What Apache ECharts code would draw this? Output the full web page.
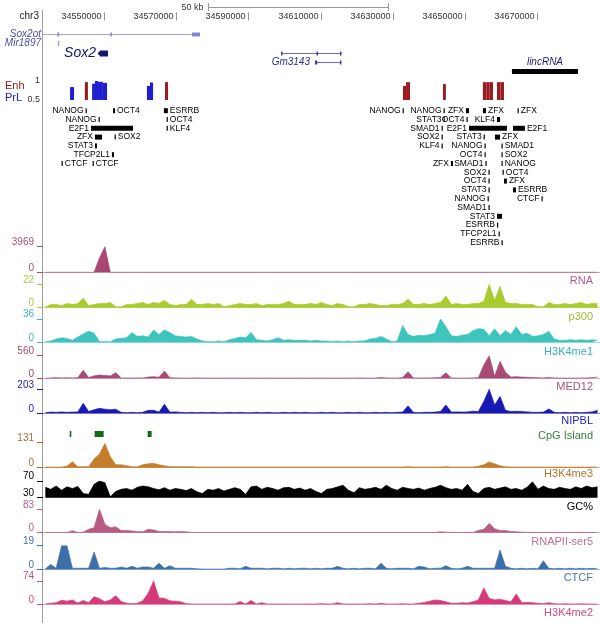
<!DOCTYPE html>
<html>
<head>
<meta charset="utf-8">
<script src="https://cdn.jsdelivr.net/npm/echarts@6.0.0/dist/echarts.min.js"></script>
<style>
html, body { margin: 0; padding: 0; background: #fff; }
#main { width: 600px; height: 623px; }
</style>
</head>
<body>
<div id="main"></div>
<script>
var FONT = '"Liberation Sans", Arial, sans-serif';

// genomic window (chr3)
var X_MIN = 34533100, X_MAX = 34687450;
// signal tracks are binned: bin i starts at BIN_START + i * BIN_SIZE
var BIN_START = 34533000, BIN_SIZE = 1500;

var rulerTicks = [34550000, 34570000, 34590000, 34610000, 34630000, 34650000, 34670000];
var scaleBar = [34578800, 34628800];

// name, txStart, txEnd, row
var genes = [
    ['Sox2ot', 34533100, 34576600, 0],
    ['Mir1897', 34537200, 34537500, 1],
    ['Sox2', 34548900, 34551100, 2],
    ['Gm3143', 34599050, 34615670, 2],
    ['Gm3143', 34608470, 34615670, 3],
    ['lincRNA', 34663050, 34681350, 4]
];
var geneExons = [
    [[34537100, 34537550], [34551800, 34552200], [34574400, 34576600]],
    [[34537200, 34537500]],
    [[34548900, 34551100]],
    [[34599050, 34599450], [34608900, 34609300], [34615400, 34615670]],
    [[34608470, 34609100], [34615400, 34615670]],
    [[34663050, 34681350]]
];

// start, end, score
var enhRegions = [
    [34544700, 34545550, 0.97], [34566900, 34567750, 0.97],
    [34632850, 34633700, 0.87], [34633700, 34634800, 0.97],
    [34643950, 34644750, 0.92],
    [34655000, 34655950, 0.97], [34655950, 34656900, 0.97], [34656900, 34657800, 0.97],
    [34658900, 34659850, 0.97], [34659850, 34660850, 0.97]
];
var prlRegions = [
    [34540600, 34541700, 0.84],
    [34546700, 34547500, 0.93], [34547500, 34548350, 1.0], [34548350, 34549700, 0.98], [34549700, 34550850, 0.95],
    [34561900, 34562750, 0.87], [34562750, 34563600, 0.96]
];

// factor, start, end, row
var tfSites = [
    ['NANOG', 34544900, 34545150, 0], ['OCT4', 34552500, 34553050, 0], ['ESRRB', 34566600, 34567700, 0],
    ['NANOG', 34548500, 34548750, 1], ['OCT4', 34567350, 34567600, 1],
    ['E2F1', 34546400, 34558050, 2], ['KLF4', 34567350, 34567600, 2],
    ['ZFX', 34547500, 34549450, 3], ['SOX2', 34552950, 34553200, 3],
    ['STAT3', 34547500, 34548050, 4],
    ['TFCP2L1', 34552200, 34552770, 5],
    ['CTCF', 34538250, 34538500, 6], ['CTCF', 34546850, 34547100, 6],

    ['NANOG', 34632750, 34633000, 0], ['NANOG', 34644100, 34644350, 0], ['ZFX', 34650300, 34651150, 0],
    ['ZFX', 34655000, 34655850, 0], ['ZFX', 34664600, 34664850, 0],
    ['STAT3', 34644100, 34644350, 1], ['OCT4', 34650450, 34650700, 1], ['KLF4', 34658900, 34659750, 1],
    ['SMAD1', 34643550, 34643800, 2], ['E2F1', 34651150, 34661650, 2], ['E2F1', 34663350, 34666650, 2],
    ['SOX2', 34643550, 34643800, 3], ['STAT3', 34655200, 34655450, 3], ['ZFX', 34658350, 34659750, 3],
    ['KLF4', 34643550, 34643800, 4], ['NANOG', 34655450, 34655700, 4], ['SMAD1', 34660150, 34660400, 4],
    ['OCT4', 34655450, 34655700, 5], ['SOX2', 34660150, 34660400, 5],
    ['ZFX', 34646150, 34646700, 6], ['SMAD1', 34655700, 34655950, 6], ['NANOG', 34660150, 34660400, 6],
    ['SOX2', 34656550, 34656800, 7], ['OCT4', 34660450, 34660700, 7],
    ['OCT4', 34656550, 34656800, 8], ['ZFX', 34660850, 34661650, 8],
    ['STAT3', 34656550, 34656800, 9], ['ESRRB', 34663350, 34664150, 9],
    ['NANOG', 34656300, 34656550, 10], ['CTCF', 34671250, 34671500, 10],
    ['SMAD1', 34656550, 34656800, 11],
    ['STAT3', 34658900, 34660300, 12],
    ['ESRRB', 34658900, 34659200, 13],
    ['TFCP2L1', 34659350, 34659600, 14],
    ['ESRRB', 34660150, 34660400, 15]
];

var cpgIslands = [[34540500, 34540950], [34547400, 34549900], [34562100, 34563200]];

var trackNames = ['RNA', 'p300', 'H3K4me1', 'MED12', 'NIPBL', 'H3K4me3', 'GC%', 'RNAPII-ser5', 'CTCF', 'H3K4me2'];
var trackRanges = [[0, 3969], [0, 22], [0, 36], [0, 560], [0, 203], [0, 131], [30, 70], [0, 83], [0, 19], [0, 74]];

var rna = [
    0, 0, 0, 0, 0, 0, 0, 0, 0, 0,
    2200, 3969, 0, 0, 0, 0, 0, 0, 0, 0,
    0, 0, 0, 0, 0, 0, 0, 0, 0, 0,
    0, 0, 0, 0, 0, 0, 0, 0, 0, 0,
    0, 0, 0, 0, 0, 0, 0, 0, 0, 0,
    0, 0, 0, 0, 0, 0, 0, 0, 0, 0,
    0, 0, 0, 0, 0, 0, 0, 0, 0, 0,
    0, 0, 0, 0, 0, 0, 0, 0, 0, 0,
    0, 0, 0, 0, 0, 0, 0, 0, 0, 0,
    0, 0, 0, 0, 0, 0, 0, 0, 0, 0,
    0, 0, 0
];
var p300 = [
    0.5, 3, 3, 2, 4, 3, 4, 9, 2, 3,
    4, 4, 5, 1, 1, 3, 3, 4, 5, 3,
    5, 4, 7, 3, 2, 3, 3, 8, 3, 3,
    4, 3, 4, 1, 2, 3, 4, 3, 3, 4,
    2, 3, 3, 3, 4, 6, 3, 3, 3, 4,
    3, 5, 3, 2, 4, 3, 1, 1, 3, 3,
    4, 3, 2, 2, 3, 3, 4, 8, 3, 3,
    4, 3, 4, 5, 11, 3, 4, 3, 3, 4,
    4, 6, 22, 7, 20, 5, 4, 4, 3, 3,
    3, 1, 1, 5, 3, 3, 4, 3, 4, 5,
    3, 4, 4
];
var h3k4me1 = [
    1, 2, 5, 7, 6, 3, 8, 13, 17, 14,
    1, 1, 1, 5, 6, 7, 15, 9, 10, 8,
    19, 12, 19, 15, 10, 9, 8, 9, 5, 2,
    1, 1, 2, 1, 4, 6, 8, 7, 15, 4,
    3, 2, 4, 7, 3, 4, 3, 3, 3, 2,
    3, 2, 2, 1, 2, 1, 2, 1, 2, 2,
    5, 6, 9, 5, 1, 2, 26, 12, 9, 11,
    10, 12, 14, 36, 24, 10, 9, 11, 12, 18,
    21, 20, 10, 21, 10, 18, 12, 24, 12, 14,
    9, 10, 12, 17, 5, 3, 3, 4, 3, 4,
    3, 4, 3
];
var med12 = [
    0, 10, 15, 10, 15, 10, 15, 200, 20, 60,
    80, 70, 60, 140, 5, 10, 5, 10, 5, 30,
    40, 25, 180, 15, 10, 5, 5, 5, 10, 5,
    5, 5, 5, 5, 5, 5, 5, 5, 5, 5,
    5, 5, 5, 5, 5, 5, 5, 5, 5, 5,
    5, 5, 5, 5, 5, 5, 5, 5, 10, 5,
    5, 5, 20, 10, 5, 5, 20, 165, 10, 5,
    10, 10, 15, 20, 140, 10, 5, 5, 5, 10,
    15, 330, 560, 50, 420, 150, 30, 40, 30, 25,
    20, 15, 10, 20, 10, 5, 5, 5, 5, 5,
    10, 15, 30
];
var nipbl = [
    5, 10, 8, 12, 8, 10, 12, 85, 15, 30,
    42, 35, 30, 35, 8, 5, 8, 5, 8, 25,
    25, 10, 77, 10, 12, 8, 5, 8, 5, 8,
    5, 8, 5, 5, 8, 5, 8, 5, 5, 8,
    5, 8, 5, 5, 8, 5, 8, 5, 8, 5,
    5, 8, 5, 8, 5, 5, 8, 5, 8, 5,
    5, 8, 5, 8, 5, 8, 10, 62, 8, 5,
    8, 8, 10, 15, 70, 10, 12, 10, 12, 18,
    15, 100, 203, 70, 143, 25, 15, 18, 15, 12,
    8, 8, 10, 37, 8, 5, 8, 5, 8, 5,
    8, 12, 25
];
var h3k4me3 = [
    3, 3, 2, 3, 8, 31, 5, 5, 5, 45,
    70, 125, 57, 15, 15, 10, 5, 5, 15, 20,
    22, 15, 10, 5, 5, 5, 5, 5, 3, 3,
    3, 3, 3, 3, 3, 3, 3, 3, 3, 3,
    3, 3, 3, 3, 3, 3, 3, 3, 3, 3,
    3, 3, 3, 3, 3, 3, 3, 3, 3, 3,
    3, 3, 3, 3, 3, 3, 3, 5, 3, 3,
    3, 3, 3, 3, 5, 3, 3, 3, 3, 3,
    8, 15, 30, 20, 10, 5, 3, 3, 3, 3,
    3, 3, 3, 3, 3, 3, 3, 3, 3, 3,
    3, 3, 3
];
var gcPercent = [
    55, 50, 58, 48, 56, 52, 57, 40, 38, 62,
    70, 66, 32, 45, 50, 52, 48, 55, 58, 56,
    52, 49, 54, 48, 52, 50, 47, 52, 44, 40,
    50, 48, 52, 46, 50, 54, 50, 38, 56, 58,
    50, 55, 52, 48, 54, 55, 50, 53, 48, 52,
    45, 40, 50, 52, 56, 60, 48, 42, 54, 50,
    52, 55, 50, 60, 52, 48, 55, 52, 50, 53,
    48, 52, 55, 60, 54, 50, 52, 48, 62, 45,
    40, 52, 55, 50, 53, 56, 50, 52, 48, 55,
    68, 50, 58, 52, 50, 55, 52, 50, 56, 52,
    58, 54, 56
];
var rnapii = [
    1, 1, 1, 1, 1, 7, 1, 2, 12, 18,
    83, 30, 18, 21, 8, 8, 6, 4, 3, 12,
    10, 4, 4, 4, 3, 4, 3, 1, 1, 1,
    1, 1, 1, 1, 1, 1, 1, 1, 1, 1,
    1, 1, 1, 1, 1, 1, 1, 1, 1, 1,
    1, 1, 1, 1, 1, 1, 1, 1, 1, 1,
    1, 1, 1, 1, 1, 1, 1, 1, 1, 1,
    1, 1, 1, 3, 2, 1, 1, 1, 1, 1,
    8, 12, 33, 14, 8, 8, 4, 3, 2, 1,
    1, 1, 1, 1, 1, 1, 1, 1, 1, 1,
    1, 1, 1
];
var ctcf = [
    0.5, 4, 1, 19, 19, 1, 1, 1, 1, 14,
    1, 1.5, 1, 1, 2, 1, 2.5, 1, 2, 2,
    1, 5, 1, 3, 1, 1, 1, 1, 0.5, 0.3,
    0.3, 0.3, 0.3, 0.3, 1, 1, 0.5, 2.5, 1, 1,
    1, 0.5, 1, 1, 0.5, 1, 0.5, 1, 1, 0.5,
    1, 0.5, 1, 1, 2.5, 1, 0.5, 1, 0.5, 1,
    1, 0.5, 5, 1, 0.5, 1, 1, 1, 0.5, 2.5,
    2, 0.5, 1, 1, 3, 1, 0.5, 1, 2.5, 1,
    1, 1, 1, 1, 15.5, 2.5, 1, 0.5, 1, 0.5,
    1, 0.5, 7, 1, 0.5, 1, 0.5, 1, 0.5, 1,
    0.5, 1, 0.5
];
var h3k4me2 = [
    1, 3, 5, 13, 10, 14, 4, 12, 5, 24,
    18, 8, 14, 27, 9, 3, 2, 3, 11, 35,
    74, 20, 19, 11, 10, 8, 2, 1, 1, 1,
    1, 1, 1, 1, 1, 1, 9, 1, 12, 1,
    5, 1, 1, 1, 1, 1, 1, 1, 1, 1,
    1, 2, 1, 1, 5, 1, 1, 1, 1, 1,
    2, 1, 3, 1, 1, 1, 2, 1, 1, 3,
    6, 10, 14, 12, 8, 3, 3, 5, 4, 8,
    14, 52, 19, 14, 16, 12, 8, 33, 6, 6,
    5, 3, 2, 5, 2, 1, 2, 1, 1, 2,
    1, 1, 1
];
var trackValues = [rna, p300, h3k4me1, med12, nipbl, h3k4me3, gcPercent, rnapii, ctcf, h3k4me2];

// ---- layout / styles ----
// label side of each TF site ('L' left of the site, 'R' right of it)
var tfLabelSide = ['LRRLRLRLRLLRR', 'LLLRR', 'LLL', 'LLR', 'LLR', 'LLR', 'LR', 'LLR', 'LR', 'LR', 'LR', 'LL', 'LLLLL'].join('');

// top, height, name y, fill, name colour, number colour
var trackLayout = [
    [246.7, 25.6, 281, '#a8476f', '#b15c83', '#a3517a'],
    [284.3, 23.4, 317, '#a9cb2f', '#9dbb38', '#a8c63e'],
    [319, 23.3, 352, '#3cc4bd', '#35b3b7', '#3db6be'],
    [355.7, 22.6, 387, '#a84a72', '#a8537b', '#a04b72'],
    [389.3, 24, 421, '#1818b4', '#2424b8', '#1c1ca2'],
    [442.3, 25.4, 474, '#c47d2a', '#b3742e', '#a36c34'],
    [481, 16.7, 507, '#000000', '#000000', '#000000'],
    [509.3, 23.4, 542, '#b75b84', '#c06f97', '#b0638a'],
    [545.7, 23.8, 578, '#3d6fa8', '#4f78a8', '#4070a8'],
    [581, 23.3, 613, '#d63b79', '#d14a82', '#d04a80']
];

var geneLook = [
    {line: '#a6a6e4', exon: '#8484d8', h: 4, label: 'margin', font: 'italic 10px ' + FONT, text: '#4b4ba3'},
    {line: '#a6a6e4', exon: '#9a9ae0', h: 5, label: 'margin', font: 'italic 10px ' + FONT, text: '#4b4ba3'},
    {line: '#15156e', exon: '#15156e', h: 6, label: 'left', font: 'italic 14px ' + FONT, text: '#15156e', arrow: true},
    {line: '#6a6ac4', exon: '#3c3ca8', h: 4, label: 'none'},
    {line: '#6a6ac4', exon: '#3c3ca8', h: 4, label: 'left', font: 'italic 10px ' + FONT, text: '#2c2c8c'},
    {line: '#000000', exon: '#000000', h: 5, label: 'above', font: 'italic 10px ' + FONT, text: '#1a1a80'}
];

var grids = [], xAxes = [], yAxes = [], series = [], graphics = [];

function addGrid(top, height, yAxis, baseColor) {
    var k = grids.length;
    grids.push({left: 43, right: 0, top: top, height: height});
    xAxes.push({
        gridIndex: k, type: 'value', min: X_MIN, max: X_MAX, show: !!baseColor,
        axisLine: {show: !!baseColor, onZero: false, lineStyle: {color: baseColor || '#000', width: 1, opacity: 0.5}},
        axisTick: {show: false}, axisLabel: {show: false}, splitLine: {show: false}
    });
    yAxis.gridIndex = k;
    yAxes.push(yAxis);
    return k;
}

function hiddenY(min, max, inverse) {
    return {type: 'value', min: min, max: max, inverse: !!inverse, show: false, splitLine: {show: false}};
}

function addCustom(k, data, renderItem, color) {
    series.push({
        type: 'custom', xAxisIndex: k, yAxisIndex: k, data: data, renderItem: renderItem,
        silent: true, clip: false, itemStyle: {color: color || '#000'}
    });
}

function crisp(v) { return Math.round(v) + 0.5; }

// scale bar
function renderScale(params, api) {
    var a = api.coord([api.value(0), 0]), b = api.coord([api.value(1), 0]);
    var cs = params.coordSys, y = crisp(cs.y + cs.height / 2);
    var x0 = crisp(a[0]), x1 = crisp(b[0]);
    var st = {stroke: '#9a9a9a', lineWidth: 1};
    return {type: 'group', children: [
        {type: 'line', shape: {x1: x0, y1: y, x2: x1, y2: y}, style: st},
        {type: 'line', shape: {x1: x0, y1: cs.y, x2: x0, y2: cs.y + cs.height}, style: st},
        {type: 'line', shape: {x1: x1, y1: cs.y, x2: x1, y2: cs.y + cs.height}, style: st},
        {type: 'text', style: {text: Math.round((api.value(1) - api.value(0)) / 1000) + ' kb', x: x0 - 5, y: y,
            align: 'right', verticalAlign: 'middle', font: '9px ' + FONT, fill: '#333'}}
    ]};
}
var k = addGrid(3, 8, hiddenY(0, 1));
addCustom(k, [scaleBar], renderScale);

// position ruler
function renderRuler(params, api) {
    var v = api.value(0), x = crisp(api.coord([v, 0])[0]), cs = params.coordSys;
    return {type: 'group', children: [
        {type: 'line', shape: {x1: x, y1: cs.y, x2: x, y2: cs.y + cs.height}, style: {stroke: '#999', lineWidth: 1}},
        {type: 'text', style: {text: String(v), x: x - 3, y: cs.y + cs.height / 2, align: 'right',
            verticalAlign: 'middle', font: '9px ' + FONT, fill: '#333'}}
    ]};
}
k = addGrid(12.5, 8, hiddenY(0, 1));
addCustom(k, rulerTicks.map(function (v) { return [v, 0]; }), renderRuler);

// genes
function renderGene(params, api) {
    var i = params.dataIndex, g = genes[i], look = geneLook[i];
    var a = api.coord([g[1], g[3]]), b = api.coord([g[2], g[3]]);
    var y = crisp(a[1]), kids = [];
    if (b[0] - a[0] > 3) {
        kids.push({type: 'line', shape: {x1: a[0], y1: y, x2: b[0], y2: y}, style: {stroke: look.line, lineWidth: 1}});
    }
    geneExons[i].forEach(function (e) {
        var x0 = api.coord([e[0], g[3]])[0], x1 = api.coord([e[1], g[3]])[0];
        kids.push({type: 'rect', shape: {x: x0, y: y - look.h / 2, width: Math.max(x1 - x0, 1.5), height: look.h},
            style: {fill: look.exon}});
    });
    if (look.arrow) {
        kids.push({type: 'polygon', shape: {points: [[a[0] - 2.5, y], [a[0] + 0.5, y - look.h / 2], [a[0] + 0.5, y + look.h / 2]]},
            style: {fill: look.exon}});
    }
    var tx, ty = y, align = 'right';
    if (look.label === 'margin') tx = params.coordSys.x - 2;
    else if (look.label === 'left') tx = a[0] - (look.arrow ? 4 : 5);
    else if (look.label === 'above') { tx = (a[0] + b[0]) / 2; ty = y - 9; align = 'center'; }
    if (tx !== undefined) {
        kids.push({type: 'text', style: {text: g[0], x: tx, y: ty, align: align, verticalAlign: 'middle',
            font: look.font, fill: look.text}});
    }
    return {type: 'group', children: kids};
}
k = addGrid(29.35, 46.5, hiddenY(-0.5, 4.5, true));
addCustom(k, genes.map(function (g) { return [g[1], g[3], g[2]]; }), renderGene);

// enhancer / promoter-like scores
function renderRegion(params, api) {
    var a = api.coord([api.value(0), api.value(2)]), b = api.coord([api.value(1), 0.5]);
    return {type: 'rect', shape: {x: a[0], y: a[1], width: b[0] - a[0], height: b[1] - a[1]},
        style: {fill: api.visual('color')}};
}
k = addGrid(81, 19, {
    type: 'value', min: 0.5, max: 1, splitLine: {show: false}, axisLine: {show: false}, axisTick: {show: false},
    axisLabel: {customValues: [0.5, 1], formatter: function (v) { return String(v); }, color: '#333',
        fontSize: 9, fontFamily: FONT, margin: 3}
});
addCustom(k, prlRegions, renderRegion, '#1f1fd0');
addCustom(k, enhRegions, renderRegion, '#9b1c20');

// transcription factor binding sites
function renderTf(params, api) {
    var i = params.dataIndex, s = tfSites[i];
    var a = api.coord([s[1], s[3]]), b = api.coord([s[2], s[3]]);
    var w = Math.max(b[0] - a[0], 1.2), y = a[1];
    var right = tfLabelSide.charAt(i) === 'R';
    return {type: 'group', children: [
        {type: 'rect', shape: {x: a[0], y: y - 2.5, width: w, height: 5}, style: {fill: '#000'}},
        {type: 'text', style: {text: s[0], x: right ? a[0] + w + 2 : a[0] - 2, y: y,
            align: right ? 'left' : 'right', verticalAlign: 'middle', font: '8.5px ' + FONT, fill: '#000'}}
    ]};
}
k = addGrid(106.3, 140.8, hiddenY(-0.5, 15.5, true));
addCustom(k, tfSites.map(function (s) { return [s[1], s[3], s[2]]; }), renderTf);

// signal tracks
function addTrack(t) {
    var lay = trackLayout[t], r = trackRanges[t];
    var kk = addGrid(lay[0], lay[1], {
        type: 'value', min: r[0], max: r[1], splitLine: {show: false}, axisLine: {show: false},
        axisTick: {show: true, length: 6, customValues: [r[0], r[1]], lineStyle: {color: lay[5]}},
        axisLabel: {customValues: [r[0], r[1]], formatter: function (v) { return String(v); },
            color: lay[5], fontSize: 10, fontFamily: FONT, margin: 9, verticalAlign: 'bottom', lineHeight: 9}
    }, t === 6 ? null : lay[5]);
    series.push({
        type: 'line', xAxisIndex: kk, yAxisIndex: kk, symbol: 'none', silent: true,
        data: trackValues[t].map(function (v, i) { return [BIN_START + (i + 0.5) * BIN_SIZE, v]; }),
        lineStyle: {color: lay[3], width: 0.7}, itemStyle: {color: lay[3]},
        areaStyle: {color: lay[3], opacity: 1, origin: 'start'}
    });
    graphics.push({type: 'text', x: 593, y: lay[2], silent: true,
        style: {text: trackNames[t], align: 'right', verticalAlign: 'middle', font: '11px ' + FONT, fill: lay[4]}});
}
for (var t = 0; t < 5; t++) addTrack(t);

// CpG islands
function renderCpg(params, api) {
    var a = api.coord([api.value(0), 1]), b = api.coord([api.value(1), 0]);
    return {type: 'rect', shape: {x: a[0], y: a[1], width: Math.max(b[0] - a[0], 1.5), height: b[1] - a[1]},
        style: {fill: api.visual('color')}};
}
k = addGrid(431, 6, hiddenY(0, 1));
addCustom(k, cpgIslands, renderCpg, '#0f6e12');
graphics.push({type: 'text', x: 593, y: 436, silent: true,
    style: {text: 'CpG Island', align: 'right', verticalAlign: 'middle', font: '11px ' + FONT, fill: '#3a7d3a'}});

for (t = 5; t < trackNames.length; t++) addTrack(t);

// frame and side labels
graphics.push({type: 'line', silent: true, shape: {x1: 42.5, y1: 10, x2: 42.5, y2: 623}, style: {stroke: '#9c9c9c', lineWidth: 1}});
graphics.push({type: 'text', x: 39, y: 16.5, silent: true,
    style: {text: 'chr3', align: 'right', verticalAlign: 'middle', font: '10px ' + FONT, fill: '#222'}});
graphics.push({type: 'text', x: 5, y: 86, silent: true,
    style: {text: 'Enh', align: 'left', verticalAlign: 'middle', font: '11px ' + FONT, fill: '#8b1a1a'}});
graphics.push({type: 'text', x: 5, y: 98, silent: true,
    style: {text: 'PrL', align: 'left', verticalAlign: 'middle', font: '11px ' + FONT, fill: '#1a1ad0'}});

var myChart = echarts.init(document.getElementById('main'));
var option = {
    animation: false,
    backgroundColor: '#fff',
    textStyle: {fontFamily: FONT},
    grid: grids,
    xAxis: xAxes,
    yAxis: yAxes,
    series: series,
    graphic: graphics
};
myChart.setOption(option);
</script>
</body>
</html>
